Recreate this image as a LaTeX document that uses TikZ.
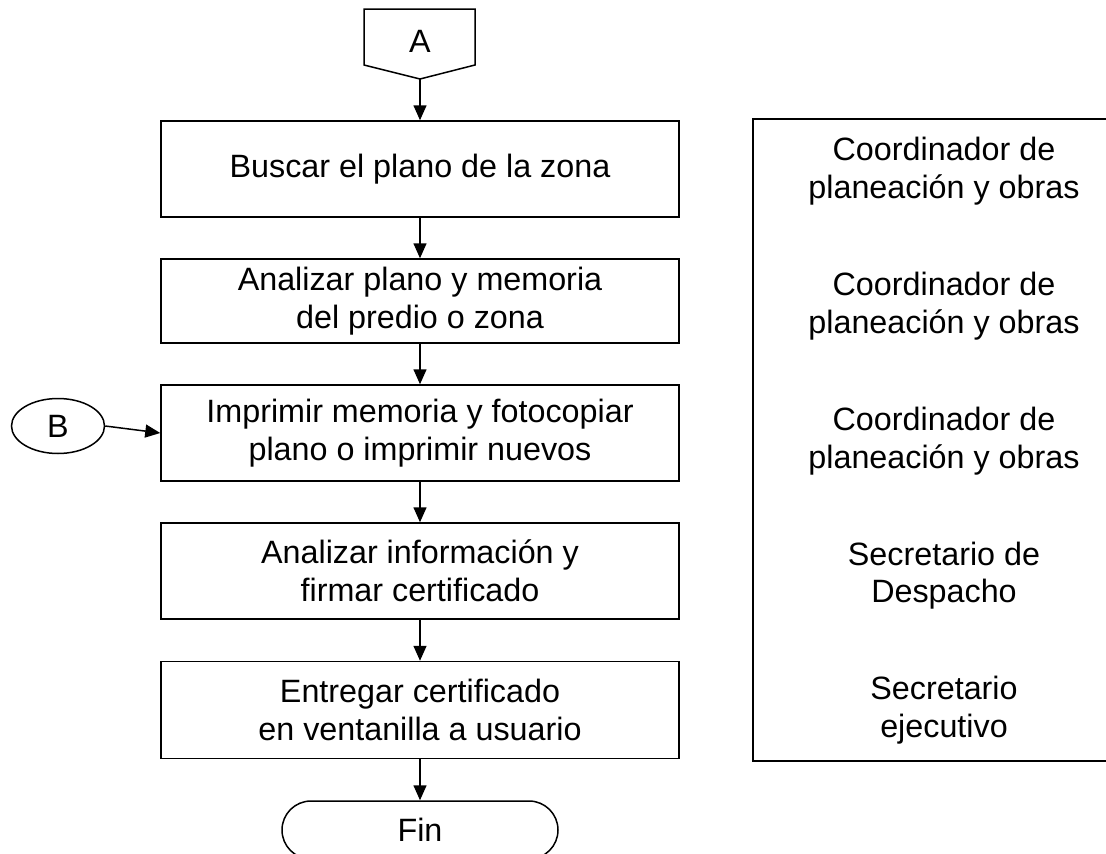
\documentclass[tikz,border=0pt]{standalone}
\usepackage{fontspec}
\setmainfont{Liberation Sans}
\usetikzlibrary{arrows.meta,shapes.geometric,shapes.misc,positioning}
\begin{document}
\begin{tikzpicture}[x=1pt,y=-1pt,
  every node/.style={font=\fontsize{32.3}{37.5}\selectfont, align=center, inner sep=0pt},
  stepbox/.style={draw, line width=1.5pt, minimum width=518pt},
  conn/.style={line width=1.5pt, -{Triangle[length=15pt,width=13pt]}},
  plain/.style={line width=1.5pt}]
\path[use as bounding box, clip] (0,0) rectangle (1106,854);
% connector A
\draw[plain] (364,9) -- (475,9) -- (475,65) -- (420,79) -- (364,65) -- cycle;
\node (A) at (420,41) {A};
\coordinate (Ap) at (420,79);
% boxes
\node[stepbox, minimum height=96pt] (b1) at (420,169) {Buscar el plano de la zona};
\node[stepbox, minimum height=84pt] (b2) at (420,301) {Analizar plano y memoria\\ del predio o zona};
\node[stepbox, minimum height=96pt] (b3) at (420,433) {Imprimir memoria y fotocopiar\\plano o imprimir nuevos};
\node[stepbox, minimum height=96pt] (b4) at (420,571) {Analizar información y\\ firmar certificado};
\node[stepbox, minimum height=97pt] (b5) at (420,710) {Entregar certificado\\ en ventanilla a usuario};
% terminal
\node[draw, line width=1.5pt, rounded rectangle, minimum width=276pt, minimum height=58pt] (fin) at (420,830) {Fin};
% B
\node[draw, line width=1.5pt, ellipse, minimum width=93pt, minimum height=55pt] (B) at (58,426) {B};
% connectors
\draw[conn] (Ap) -- (b1.north);
\draw[conn] (b1) -- (b2);
\draw[conn] (b2) -- (b3);
\draw[conn] (b3) -- (b4);
\draw[conn] (b4) -- (b5);
\draw[conn] (b5) -- (fin);
\draw[conn] (B.east) -- (b3.west);
% right panel
\node[draw, line width=1.5pt, minimum width=380pt, minimum height=642pt] (panel) at (943,440) {};
\node (r1) at (944,171) {Coordinador de\\planeación y obras};
\node (r2) at (944,306) {Coordinador de\\planeación y obras};
\node (r3) at (944,441) {Coordinador de\\planeación y obras};
\node (r4) at (944,575.5) {Secretario de\\Despacho};
\node (r5) at (944,710) {Secretario\\ejecutivo};
\end{tikzpicture}
\end{document}
